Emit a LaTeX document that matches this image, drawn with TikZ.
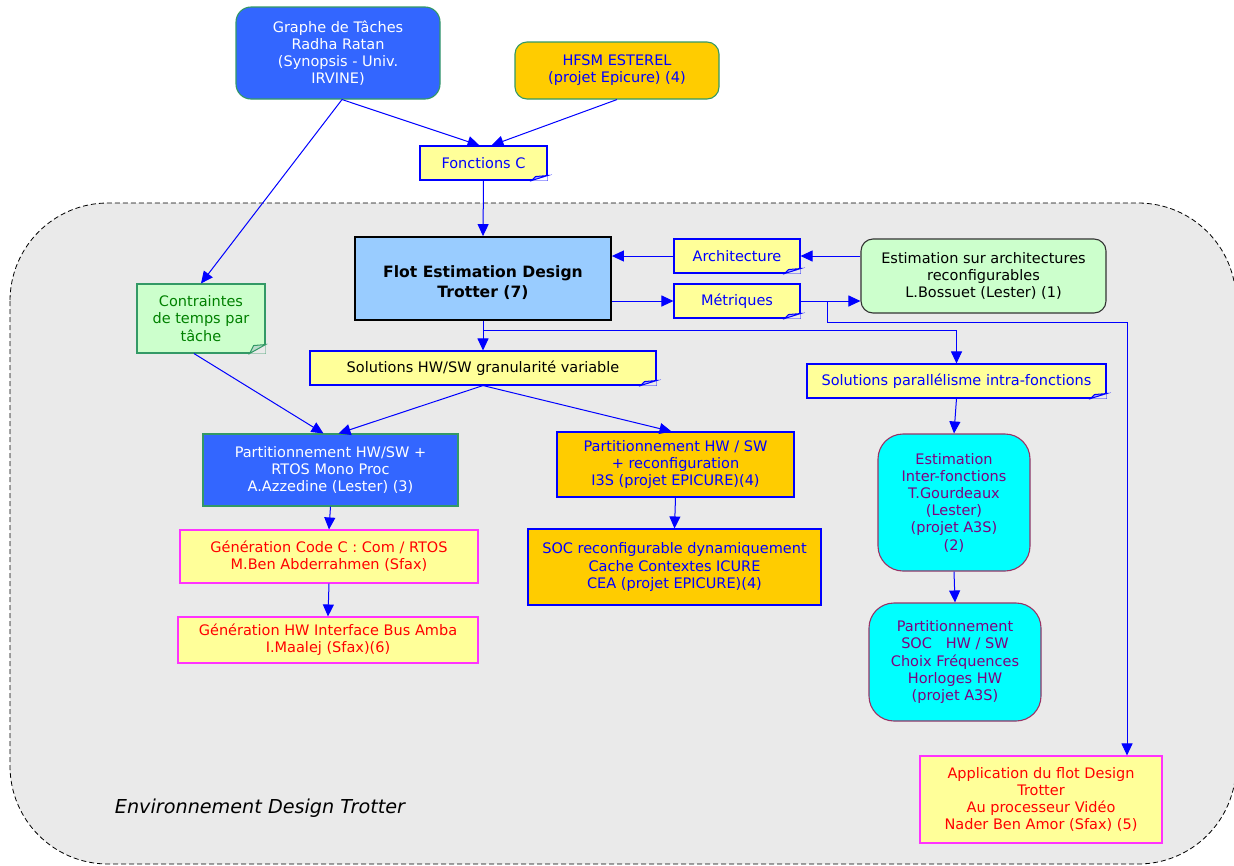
\documentclass[tikz,border=0pt]{standalone}
\usepackage{fontspec}
\setmainfont{DejaVu Sans}
\usetikzlibrary{arrows.meta,calc}

\definecolor{royal}{HTML}{3366FF}
\definecolor{gold}{HTML}{FFCC00}
\definecolor{paleyellow}{HTML}{FFFF99}
\definecolor{skyblue}{HTML}{99CCFF}
\definecolor{mint}{HTML}{CCFFCC}
\definecolor{aqua}{HTML}{00FFFF}
\definecolor{envgray}{HTML}{EAEAEA}
\definecolor{pink}{HTML}{FF33FF}
\definecolor{seagreen}{HTML}{339966}
\definecolor{darkgreen}{HTML}{008000}
\definecolor{plum}{HTML}{800080}
\definecolor{plumborder}{HTML}{993366}
\definecolor{pureblue}{HTML}{0000FF}
\definecolor{pured}{HTML}{FF0000}
\definecolor{charcoal}{HTML}{333333}

% folded bottom-right corner of a note: node, background, border colour, fold height
\newcommand\notefold[4]{%
  \fill[#2] (#1.south east) -- ($(#1.south east)+(-16,0)$) -- ($(#1.south east)+(0,-#4)$) -- cycle;
  \filldraw[draw=#3, line width=1pt, fill=#3!35!white]
    ($(#1.south east)+(-16,0)$) -- ($(#1.south east)+(-12,-#4+1)$) -- ($(#1.south east)+(0,-#4)$) -- cycle;
}

\begin{document}
\begin{tikzpicture}[x=1pt,y=-1pt,
  every node/.style={font=\fontsize{14.5}{17.2}\selectfont, align=center, inner sep=0pt},
  box/.style={draw, line width=1.1pt, rectangle},
  note/.style={box, draw=pureblue, fill=paleyellow, text=pureblue, minimum height=34pt},
  arr/.style={draw=pureblue, line width=1pt, -{Triangle[length=12pt,width=11pt]}},
  link/.style={draw=pureblue, line width=1pt}]
\useasboundingbox (0,0) rectangle (1234,865);

% environment area
\draw[black, line width=0.8pt, dash pattern=on 5pt off 3pt, fill=envgray, rounded corners=98pt]
  (10,203) rectangle (1236,864);
\node[font=\fontsize{19.2}{22}\selectfont\itshape] (env) at (260,808) {Environnement Design Trotter};

% inputs
\node[box, draw=seagreen, fill=royal, text=white, rounded corners=15pt,
  minimum width=204pt, minimum height=92pt] (graphe) at (338,53)
  {Graphe de Tâches\\Radha Ratan\\(Synopsis - Univ.\\IRVINE)};
\node[box, draw=seagreen, fill=gold, text=pureblue, rounded corners=12pt,
  minimum width=204pt, minimum height=57pt] (hfsm) at (617,70.5)
  {HFSM ESTEREL\\(projet Epicure) (4)};
\node[note, minimum width=127pt] (fonc) at (483.5,163) {Fonctions C};

% central flow
\node[box, draw=black, line width=1.8pt, fill=skyblue, minimum width=256pt, minimum height=83pt]
  (flot) at (483,278.5) {};
\node[font=\fontsize{15.6}{20}\selectfont\bfseries] (flottext) at ($(flot.center)+(0,4)$)
  {Flot Estimation Design\\Trotter (7)};
\node[note, minimum width=126pt] (archi) at (737,256) {Architecture};
\node[note, minimum width=126pt] (metr) at (737,301) {Métriques};
\node[box, draw=charcoal, fill=mint, text=black, rounded corners=12pt,
  minimum width=245pt, minimum height=74pt] (estarch) at (983.5,276)
  {Estimation sur architectures\\reconfigurables\\L.Bossuet (Lester) (1)};
\node[box, draw=seagreen, fill=mint, text=darkgreen, minimum width=128pt, minimum height=69pt]
  (contr) at (201,318.5) {Contraintes\\de temps par\\tâche};
\node[note, text=black, minimum width=346pt] (solhw) at (483,368)
  {Solutions HW/SW granularité variable};
\node[note, minimum width=299pt] (solpar) at (956.5,381)
  {Solutions parallélisme intra-fonctions};

% partitioning branches
\node[box, draw=seagreen, fill=royal, text=white, minimum width=255pt, minimum height=72pt]
  (partrtos) at (330.5,470) {Partitionnement HW/SW +\\RTOS Mono Proc\\A.Azzedine (Lester) (3)};
\node[box, draw=pureblue, fill=gold, text=pureblue, minimum width=237pt, minimum height=65pt]
  (partrec) at (675.5,464.5) {Partitionnement HW / SW\\+ reconfiguration\\I3S (projet EPICURE)(4)};
\node[box, draw=pink, fill=paleyellow, text=pured, minimum width=298pt, minimum height=53pt]
  (gencode) at (329,556.5) {Génération Code C : Com / RTOS\\M.Ben Abderrahmen (Sfax)};
\node[box, draw=pureblue, fill=gold, text=pureblue, minimum width=293pt, minimum height=76pt]
  (soc) at (674.5,567) {SOC reconfigurable dynamiquement\\Cache Contextes ICURE\\CEA (projet EPICURE)(4)};
\node[box, draw=pink, fill=paleyellow, text=pured, minimum width=300pt, minimum height=46pt]
  (genhw) at (328,640) {Génération HW Interface Bus Amba\\I.Maalej (Sfax)(6)};
\node[box, draw=plumborder, fill=aqua, text=plum, rounded corners=25pt,
  minimum width=152pt, minimum height=137pt] (estinter) at (954,502.5)
  {Estimation\\Inter-fonctions\\T.Gourdeaux\\(Lester)\\(projet A3S)\\(2)};
\node[box, draw=plumborder, fill=aqua, text=plum, rounded corners=25pt,
  minimum width=172pt, minimum height=118pt] (partsoc) at (955,662)
  {Partitionnement\\SOC\ \ \ HW / SW\\Choix Fréquences\\Horloges HW\\(projet A3S)};
\node[box, draw=pink, fill=paleyellow, text=pured, minimum width=242pt, minimum height=87pt]
  (appli) at (1041,799.5) {Application du flot Design\\Trotter\\Au processeur Vidéo\\Nader Ben Amor (Sfax) (5)};

% folded corners of the notes
\notefold{fonc}{white}{pureblue}{5}
\notefold{archi}{envgray}{pureblue}{5}
\notefold{metr}{envgray}{pureblue}{5}
\notefold{solhw}{envgray}{pureblue}{5}
\notefold{solpar}{envgray}{pureblue}{5}
\notefold{contr}{envgray}{seagreen}{9}

% connectors
\draw[arr] ($(graphe.south)+(4,0)$) -- ($(fonc.north)+(-4,0)$);
\draw[arr] (hfsm.south) -- ($(fonc.north)+(8,0)$);
\draw[arr] ($(graphe.south)+(4,0)$) -- (contr.north);
\draw[arr] (fonc.south) -- (flot.north);
\draw[arr] (archi.west) -- (archi.west -| flot.east);
\draw[arr] (estarch.west |- archi.east) -- (archi.east);
\draw[arr] (flot.east |- metr.west) -- (metr.west);
\draw[arr] (metr.east) -- (metr.east -| estarch.west);
\coordinate (mbr) at ($(metr.east)+(27,0)$);
\coordinate (mdrop) at ($(appli.north)+(86,0)$);
\draw[arr] (mbr) -- ($(mbr)+(0,21)$) -| (mdrop);
\draw[arr] (flot.south) -- (solhw.north);
\coordinate (fbr) at ($(flot.south)+(0,10)$);
\draw[arr] (fbr) -| (solpar.north);
\draw[arr] ($(contr.south)+(-7,0)$) -- ($(partrtos.north)+(-7,0)$);
\draw[arr] (solhw.south) -- ($(partrtos.north)+(8,0)$);
\draw[arr] (solhw.south) -- ($(partrec.north)+(-4,0)$);
\draw[arr] (solpar.south) -- (estinter.north);
\draw[arr] (partrtos.south) -- (gencode.north);
\draw[arr] (gencode.south) -- (genhw.north);
\draw[arr] (partrec.south) -- (soc.north);
\draw[arr] (estinter.south) -- (partsoc.north);
\end{tikzpicture}
\end{document}
